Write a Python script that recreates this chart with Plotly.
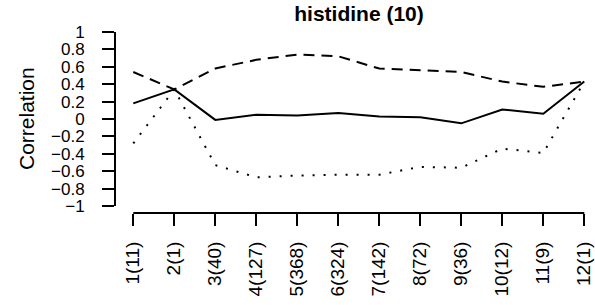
import plotly.graph_objects as go

categories = ["1(11)", "2(1)", "3(40)", "4(127)", "5(368)", "6(324)", "7(142)",
              "8(72)", "9(36)", "10(12)", "11(9)", "12(1)"]
positions = list(range(1, 13))
solid_vals = [0.18, 0.34, -0.01, 0.05, 0.04, 0.07, 0.03, 0.02, -0.05, 0.11, 0.06, 0.43]
dashed_vals = [0.54, 0.34, 0.58, 0.68, 0.74, 0.72, 0.58, 0.56, 0.54, 0.43, 0.37, 0.43]
dotted_vals = [-0.28, 0.34, -0.53, -0.67, -0.65, -0.64, -0.64, -0.55, -0.56, -0.34, -0.39, 0.43]
y_ticks = [-1, -0.8, -0.6, -0.4, -0.2, 0, 0.2, 0.4, 0.6, 0.8, 1]
y_ticktext = ["\u22121", "\u22120.8", "\u22120.6", "\u22120.4", "\u22120.2", "0",
              "0.2", "0.4", "0.6", "0.8", "1"]

FONT = "Liberation Sans, Arial, sans-serif"

fig = go.Figure()
fig.add_trace(go.Scatter(x=positions, y=dashed_vals, mode="lines",
                         line=dict(color="black", width=2, dash="11px,7px"), showlegend=False))
fig.add_trace(go.Scatter(x=positions, y=dotted_vals, mode="lines",
                         line=dict(color="black", width=2, dash="2px,9px"), showlegend=False))
fig.add_trace(go.Scatter(x=positions, y=solid_vals, mode="lines",
                         line=dict(color="black", width=2), showlegend=False))

# R-style axis lines spanning only the tick range
fig.add_shape(type="line", xref="x", yref="paper", x0=positions[0], x1=positions[-1],
              y0=0, y1=0, line=dict(color="black", width=2))
fig.add_shape(type="line", xref="paper", yref="y", x0=0, x1=0,
              y0=y_ticks[0], y1=y_ticks[-1], line=dict(color="black", width=2))

fig.update_layout(
    width=595, height=305,
    margin=dict(l=115, r=1, t=25, b=92, autoexpand=False),
    paper_bgcolor="white", plot_bgcolor="white",
    font=dict(family=FONT, color="black"),
    title=dict(text="<b>histidine (10)</b>", x=359/595, xanchor="center", xref="container",
               y=1 - 14/305, yanchor="middle", yref="container",
               font=dict(size=21, family=FONT, color="black")),
    xaxis=dict(range=[0.554, 12.237], tickvals=positions, ticktext=categories,
               tickangle=-90, ticks="outside", ticklen=12, tickwidth=2, tickcolor="black",
               showgrid=False, zeroline=False, showline=False, automargin=False,
               tickfont=dict(size=19, family=FONT, color="black"), ticklabelstandoff=8),
    yaxis=dict(range=[-1.08, 1.08], tickvals=y_ticks, ticktext=y_ticktext,
               ticks="outside", ticklen=12, tickwidth=2, tickcolor="black",
               showgrid=False, zeroline=False, showline=False, automargin=False,
               tickfont=dict(size=17, family=FONT, color="black"), ticklabelstandoff=14),
)
fig.add_annotation(text="Correlation", xref="paper", yref="paper",
                   x=(26 - 115) / 479, y=0.5, textangle=-90, showarrow=False,
                   xanchor="center", yanchor="middle",
                   font=dict(size=21, family=FONT, color="black"))

fig.write_html("out.html", config={"displayModeBar": False},
               post_script="document.body.style.margin='0';document.body.style.overflow='hidden';")
